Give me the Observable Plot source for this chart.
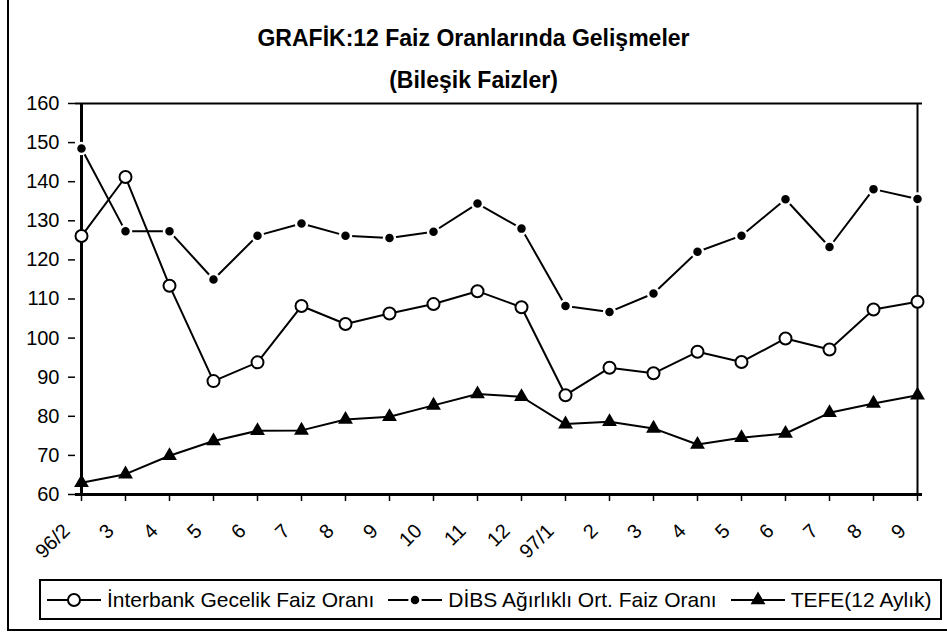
<!DOCTYPE html>
<html><head><meta charset="utf-8">
<script src="https://cdn.jsdelivr.net/npm/d3@7"></script>
<script src="https://cdn.jsdelivr.net/npm/@observablehq/plot@0.6"></script>
<style>
body{margin:0;background:#fff;}
#wrap{position:relative;width:947px;height:634px;overflow:hidden;background:#fff;font-family:"Liberation Sans",Arial,sans-serif;color:#000;}
#chart{position:absolute;left:0;top:0;}
.title{position:absolute;left:0;width:947px;text-align:center;font-weight:bold;font-size:23px;line-height:23px;white-space:nowrap;}
#border{position:absolute;left:7px;top:-10px;width:960px;height:639px;border-left:2.5px solid #000;border-bottom:2.5px solid #000;pointer-events:none;}
#legend{position:absolute;left:39px;top:579px;width:903px;height:41px;box-sizing:border-box;border:2px solid #000;display:flex;align-items:center;padding-left:6px;font-size:21px;white-space:nowrap;background:#fff;}
.item{display:flex;align-items:center;margin-right:14px;}
.item svg{margin-right:6px;}
</style></head>
<body>
<div id="wrap">
  <div id="chart"></div>
  <div class="title" style="top:27px">GRAFİK:12 Faiz Oranlarında Gelişmeler</div>
  <div class="title" style="top:69px">(Bileşik Faizler)</div>
  <div id="legend"></div>
  <div id="border"></div>
</div>
<script>
const periods = ["96/2","96/3","96/4","96/5","96/6","96/7","96/8","96/9","96/10","96/11","96/12","97/1","97/2","97/3","97/4","97/5","97/6","97/7","97/8","97/9"];
const tickLabels = ["96/2","3","4","5","6","7","8","9","10","11","12","97/1","2","3","4","5","6","7","8","9"];
const interbank = [126.1,141.2,113.4,89.0,93.8,108.2,103.6,106.3,108.7,112.0,107.9,85.4,92.4,91.0,96.5,93.9,99.9,97.1,107.3,109.3];
const dibs = [148.5,127.3,127.3,115.0,126.2,129.3,126.2,125.6,127.2,134.4,128.0,108.2,106.7,111.4,122.1,126.2,135.5,123.3,138.1,135.6];
const tefe = [63.0,65.2,69.9,73.7,76.3,76.4,79.2,79.9,82.8,85.7,85.0,78.0,78.6,76.9,72.8,74.5,75.6,80.9,83.3,85.4];
const yTicks = [60,70,80,90,100,110,120,130,140,150,160];
const seriesNames = ["İnterbank Gecelik Faiz Oranı","DİBS Ağırlıklı Ort. Faiz Oranı","TEFE(12 Aylık)"];

const rows = periods.map((p,i)=>({period:p, label:tickLabels[i], interbank:interbank[i], dibs:dibs[i], tefe:tefe[i]}));

const chart = Plot.plot({
  width: 947,
  height: 560,
  marginTop: 103,
  marginBottom: 66,
  marginLeft: 75,
  marginRight: 25,
  style: {fontFamily: "Liberation Sans, Arial, sans-serif", fontSize: "20px", color: "#000", background: "transparent", overflow: "visible"},
  x: {type: "point", domain: periods, padding: 0},
  y: {domain: [60,160]},
  marks: [
    Plot.ruleY([160], {stroke: "#000", strokeWidth: 2}),
    Plot.ruleX([periods[periods.length-1]], {stroke: "#000", strokeWidth: 2}),
    Plot.axisY({ticks: yTicks, tickSize: 7, tickPadding: 9, strokeWidth: 1.5, label: null}),
    Plot.axisX({ticks: periods, tickSize: 7, tickFormat: () => "", strokeWidth: 1.5, label: null}),
    Plot.text(rows, {x: "period", text: "label", frameAnchor: "bottom", rotate: -45, textAnchor: "end", lineAnchor: "middle", dx: -15, dy: 33, fontSize: 20}),
    Plot.ruleY([60], {stroke: "#000", strokeWidth: 3}),
    Plot.ruleX([periods[0]], {stroke: "#000", strokeWidth: 3}),
    Plot.line(rows, {x: "period", y: "dibs", stroke: "#000", strokeWidth: 2}),
    Plot.dot(rows, {x: "period", y: "dibs", r: 5.5, fill: "#000", stroke: "#fff", strokeWidth: 2.5}),
    Plot.line(rows, {x: "period", y: "interbank", stroke: "#000", strokeWidth: 2}),
    Plot.dot(rows, {x: "period", y: "interbank", r: 6, fill: "#fff", stroke: "#000", strokeWidth: 2}),
    Plot.line(rows, {x: "period", y: "tefe", stroke: "#000", strokeWidth: 2}),
    Plot.dot(rows, {x: "period", y: "tefe", symbol: "triangle", r: 5.5, fill: "#000", stroke: "none"})
  ]
});
document.getElementById("chart").appendChild(chart);

const samples = [
  '<line x1="0" y1="10" x2="54" y2="10" stroke="#000" stroke-width="2"/><circle cx="27" cy="10" r="6" fill="#fff" stroke="#000" stroke-width="2"/>',
  '<line x1="0" y1="10" x2="54" y2="10" stroke="#000" stroke-width="2"/><circle cx="27" cy="10" r="5.5" fill="#000" stroke="#fff" stroke-width="2.5"/>',
  '<line x1="0" y1="10" x2="54" y2="10" stroke="#000" stroke-width="2"/><path d="' + d3.symbol(d3.symbolTriangle, Math.PI*5.5*5.5)() + '" transform="translate(27,10)" fill="#000"/>'
];
const legend = document.getElementById("legend");
seriesNames.forEach((name,i)=>{
  const it = document.createElement("div");
  it.className = "item";
  it.innerHTML = '<svg width="54" height="20">' + samples[i] + '</svg><span>' + name + '</span>';
  legend.appendChild(it);
});
</script>
</body></html>
